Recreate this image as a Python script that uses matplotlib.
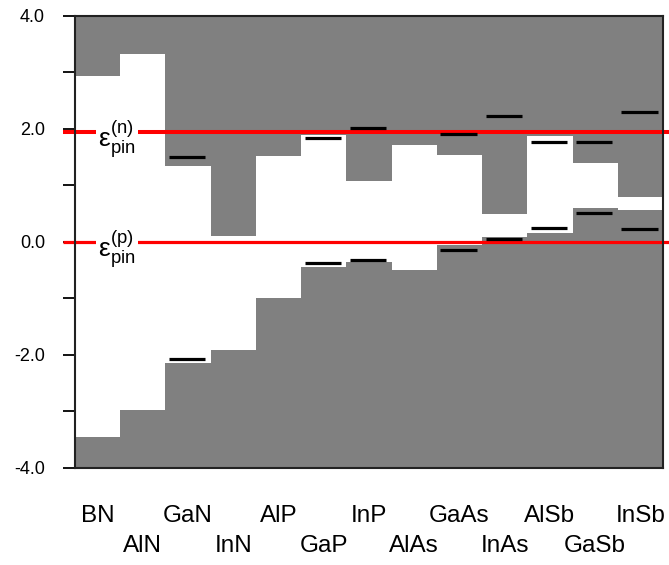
import numpy as np
import matplotlib
matplotlib.use("Agg")
import matplotlib.pyplot as plt
import matplotlib.transforms as mtransforms

plt.rcParams['font.family'] = ['Liberation Sans', 'DejaVu Sans']
plt.rcParams['mathtext.fontset'] = 'custom'
plt.rcParams['mathtext.rm'] = 'Liberation Sans'
plt.rcParams['mathtext.it'] = 'Liberation Sans'

materials = ['BN', 'AlN', 'GaN', 'InN', 'AlP', 'GaP', 'InP',
             'AlAs', 'GaAs', 'InAs', 'AlSb', 'GaSb', 'InSb']
# band edges (eV)
cbm = [2.93, 3.32, 1.34, 0.10, 1.52, 1.89, 1.07, 1.72, 1.53, 0.49, 1.87, 1.39, 0.80]
vbm = [-3.46, -2.97, -2.15, -1.91, -1.00, -0.45, -0.35, -0.49, -0.06, 0.08, 0.16, 0.59, 0.57]
# pinning levels per material (nan = none)
pin_n = [np.nan, np.nan, 1.50, np.nan, np.nan, 1.84, 2.02, np.nan, 1.90, 2.23, 1.77, 1.77, 2.29]
pin_p = [np.nan, np.nan, -2.08, np.nan, np.nan, -0.37, -0.32, np.nan, -0.14, 0.05, 0.25, 0.51, 0.23]
eps_n = 1.94
eps_p = 0.0

ymin, ymax = -4.0, 4.0
gray = '#808080'

fig = plt.figure(figsize=(6.69, 5.65), dpi=100)
ax = fig.add_axes([0.112, 0.172, 0.879, 0.800])

x = np.arange(len(materials))
cbm = np.array(cbm)
vbm = np.array(vbm)
ax.bar(x, vbm - ymin, bottom=ymin, width=1.0, align='edge',
       color=gray, linewidth=0, zorder=1)
ax.bar(x, ymax - cbm, bottom=cbm, width=1.0, align='edge',
       color=gray, linewidth=0, zorder=1)

# pinning level markers
for i in range(len(materials)):
    for lev in (pin_n[i], pin_p[i]):
        if not np.isnan(lev):
            ax.plot([i + 0.08, i + 0.88], [lev, lev], color='black',
                    lw=2.3, solid_capstyle='butt', zorder=4)

# red reference lines
ax.plot([-0.27, 13.15], [eps_n, eps_n], color='#ff0000', lw=2.9,
        clip_on=False, zorder=3, solid_capstyle='butt')
ax.plot([-0.27, 13.15], [eps_p, eps_p], color='#ff0000', lw=2.3,
        clip_on=False, zorder=3, solid_capstyle='butt')

bbox = dict(facecolor='white', edgecolor='none', pad=1.5)
ax.text(0.93, eps_n - 0.12, r'$\mathrm{\varepsilon}_{\mathrm{pin}}^{\mathrm{(n)}}$',
        fontsize=19, ha='center', va='center', bbox=bbox, zorder=5)
ax.text(0.93, eps_p - 0.12, r'$\mathrm{\varepsilon}_{\mathrm{pin}}^{\mathrm{(p)}}$',
        fontsize=19, ha='center', va='center', bbox=bbox, zorder=5)

ax.set_xlim(0, len(materials))
ax.set_ylim(ymin, ymax)
ax.set_yticks([-4, -2, 0, 2, 4])
ax.set_yticklabels(['-4.0', '-2.0', '0.0', '2.0', '4.0'])
ax.set_yticks([-3, -1, 1, 3], minor=True)
ax.tick_params(axis='y', which='both', direction='out', length=8.6,
               width=1.3, pad=13, labelsize=13)
ax.set_xticks([])

for s in ax.spines.values():
    s.set_linewidth(1.5)
    s.set_color('#222222')
    s.set_zorder(6)

# two-row material labels
trans = mtransforms.blended_transform_factory(ax.transData, ax.transAxes)
for i, name in enumerate(materials):
    yy = -0.106 if i % 2 == 0 else -0.173
    ax.text(i + 0.5, yy, name, transform=trans, ha='center', va='center',
            fontsize=17.5)

fig.savefig('out.png', dpi=100)
